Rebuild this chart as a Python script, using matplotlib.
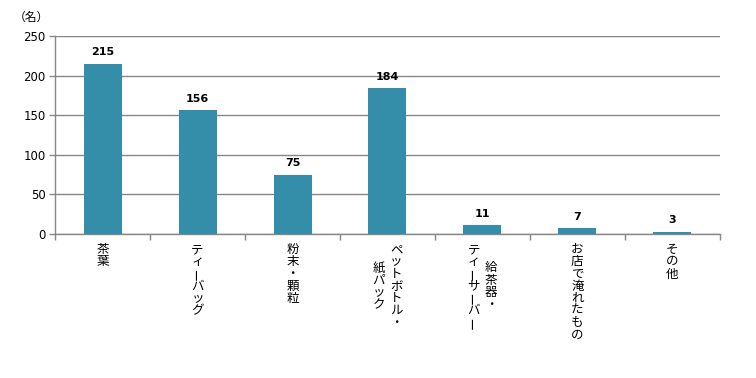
"""
Tea consumption forms - bar chart with vertical Japanese category labels
"""

import matplotlib
matplotlib.use('Agg')
import matplotlib.pyplot as plt
import numpy as np

plt.rcParams['font.family'] = ['Noto Sans CJK JP', 'DejaVu Sans']

# each label is a list of vertical columns, right column first
labels = [
    ["茶葉"],
    ["ティーバッグ"],
    ["粉末・顆粒"],
    ["ペットボトル・", "紙パック"],
    ["給茶器・", "ティーサーバー"],
    ["お店で淹れたもの"],
    ["その他"],
]
values = [215, 156, 75, 184, 11, 7, 3]
y_ticks = [0, 50, 100, 150, 200, 250]

BAR_COLOR = '#358EA9'
GRID_COLOR = '#868686'


def draw_vertical_label(ax, x, columns, fontsize=9):
    """Stack characters top-to-bottom, columns right to left, centred vertically"""
    step = 8.8
    col_gap = 12.5
    n_cols = len(columns)
    max_len = max(len(c) for c in columns)
    for ci, col in enumerate(columns):
        dx = (n_cols - 1) / 2 * col_gap - ci * col_gap
        start = (max_len - len(col)) / 2
        for k, ch in enumerate(col):
            dy = -6.5 - (start + k) * step
            rot = 90 if ch == 'ー' else 0
            ax.annotate(ch, xy=(x, 0), xycoords=('data', 'axes fraction'),
                        xytext=(dx, dy), textcoords='offset points',
                        ha='center', va='top', fontsize=fontsize,
                        rotation=rot, annotation_clip=False)


def create_chart():
    fig = plt.figure(figsize=(7.56, 3.78), dpi=100)
    ax = fig.add_axes([0.073, 0.381, 0.879, 0.524])

    x = np.arange(len(values))
    ax.bar(x, values, width=0.4, color=BAR_COLOR, zorder=3)

    for xi, v in zip(x, values):
        ax.text(xi, v + 8, str(v), ha='center', va='bottom',
                fontsize=8, weight='bold', family='DejaVu Sans')

    ax.set_xlim(-0.5, len(values) - 0.5)
    ax.set_ylim(0, 250)
    ax.set_yticks(y_ticks)
    ax.set_yticklabels([str(t) for t in y_ticks], fontsize=8.5, family='DejaVu Sans')
    ax.yaxis.grid(True, color=GRID_COLOR, linewidth=1, zorder=0)

    ax.set_xticks([])
    ax.set_xticks(np.arange(len(values) + 1) - 0.5, minor=True)
    ax.tick_params(axis='x', which='minor', length=4, color=GRID_COLOR, width=1)
    ax.tick_params(axis='y', length=4, color=GRID_COLOR, width=1, pad=3)

    for side in ['top', 'right']:
        ax.spines[side].set_visible(False)
    for side in ['left', 'bottom']:
        ax.spines[side].set_color(GRID_COLOR)
        ax.spines[side].set_linewidth(1)

    for xi, cols in zip(x, labels):
        draw_vertical_label(ax, xi, cols)

    fig.text(0.018, 0.953, '（名）', fontsize=8.5, ha='left', va='center')
    return fig


if __name__ == "__main__":
    fig = create_chart()
    fig.savefig('out.png', dpi=100, facecolor='white')
    plt.close(fig)
